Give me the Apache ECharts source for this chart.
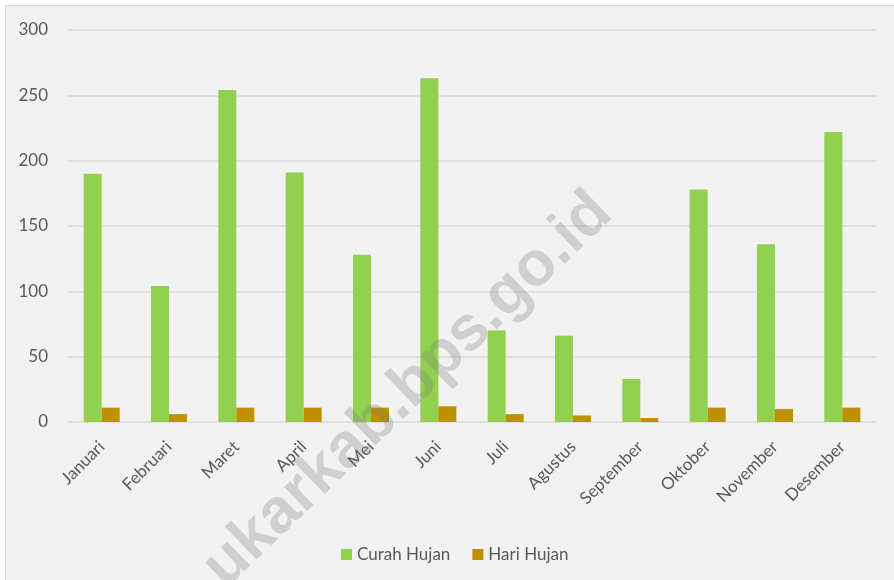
<!doctype html>
<html lang="id">
<head>
<meta charset="utf-8">
<title>Curah Hujan dan Hari Hujan</title>
<script src="https://cdn.jsdelivr.net/npm/echarts@6/dist/echarts.min.js"></script>
<style>
  html, body { margin: 0; padding: 0; background: #ffffff; }
  #wrap { position: relative; width: 894px; height: 580px; overflow: hidden; }
  #frame {
    position: absolute; left: 5px; top: 5px; width: 920px; height: 600px;
    background: #f2f2f2; border: 1px solid #d9d9d9;
  }
  #chart { position: absolute; left: 0; top: 0; width: 894px; height: 580px; }
</style>
</head>
<body>
<div id="wrap">
  <div id="frame"></div>
  <div id="chart"></div>
</div>
<script>
  const months = ['Januari', 'Februari', 'Maret', 'April', 'Mei', 'Juni',
    'Juli', 'Agustus', 'September', 'Oktober', 'November', 'Desember'];
  const curahHujan = [190, 104, 254, 191, 128, 263, 70, 66, 33, 178, 136, 222];
  const hariHujan = [11, 6, 11, 11, 11, 12, 6, 5, 3, 11, 10, 11];
  const yTicks = { min: 0, max: 300, interval: 50 };

  const font = 'Lato, "Open Sans", sans-serif';
  const textColor = '#595959';

  let myChart = echarts.init(document.getElementById('chart'));
  let option = {
    backgroundColor: 'transparent',
    animation: false,
    grid: { left: 68, right: 18, top: 30, bottom: 158 },
    legend: {
      left: 336,
      top: 541,
      itemWidth: 11,
      itemHeight: 11,
      itemGap: 22,
      icon: 'rect',
      textStyle: { color: textColor, fontSize: 17, fontFamily: font }
    },
    xAxis: {
      type: 'category',
      data: months,
      axisLine: { show: false },
      axisTick: { show: false },
      axisLabel: {
        rotate: 45,
        interval: 0,
        margin: 22,
        color: textColor,
        fontSize: 17,
        fontFamily: font
      }
    },
    yAxis: {
      type: 'value',
      min: yTicks.min,
      max: yTicks.max,
      interval: yTicks.interval,
      axisLine: { show: false },
      axisTick: { show: false },
      splitLine: { lineStyle: { color: '#d9d9d9', width: 1.5 } },
      axisLabel: { margin: 20, color: textColor, fontSize: 17, fontFamily: font }
    },
    series: [
      {
        name: 'Curah Hujan',
        type: 'bar',
        data: curahHujan,
        barWidth: 18,
        barGap: '0%',
        itemStyle: { color: '#92d050' }
      },
      {
        name: 'Hari Hujan',
        type: 'bar',
        data: hariHujan,
        barWidth: 18,
        itemStyle: { color: '#bf9000' }
      }
    ],
    graphic: [
      {
        type: 'text',
        x: 408,
        y: 390,
        rotation: 0.765,
        z: 100,
        silent: true,
        style: {
          text: 'ukarkab.bps.go.id',
          fontSize: 63,
          fontWeight: 'bold',
          fontFamily: '"Liberation Sans", Arial, sans-serif',
          fill: 'rgba(120,120,120,0.28)',
          align: 'center',
          verticalAlign: 'middle'
        }
      }
    ]
  };
  myChart.setOption(option);
</script>
</body>
</html>
